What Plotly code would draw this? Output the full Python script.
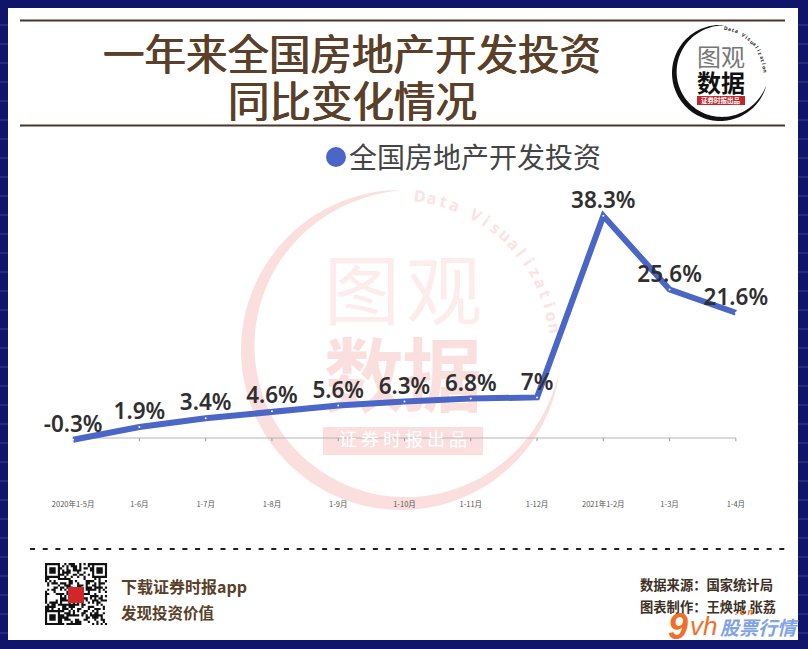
import math
import plotly.graph_objects as go

categories = ["2020年1-5月", "1-6月", "1-7月", "1-8月", "1-9月", "1-10月", "1-11月", "1-12月", "2021年1-2月", "1-3月", "1-4月"]
values = [-0.3, 1.9, 3.4, 4.6, 5.6, 6.3, 6.8, 7, 38.3, 25.6, 21.6]
labels = ["-0.3%", "1.9%", "3.4%", "4.6%", "5.6%", "6.3%", "6.8%", "7%", "38.3%", "25.6%", "21.6%"]
series_name = "全国房地产开发投资"
title_lines = ["一年来全国房地产开发投资", "同比变化情况"]

W, H = 808, 649
L, R, T, B = 40, 769, 148, 496
CJK = "Noto Sans CJK SC"
NAVY = "#10146a"
BROWN = "#5a4029"
PINK = "#fbdfdf"

def fx(p): return (p - L) / (R - L)
def fy(p): return 1 - (p - T) / (B - T)
def dx(p): return -0.5 + 11 * (p - L) / (R - L)
def dy(p): return -10 + 60 * (B - p) / (B - T)

shapes, ann = [], []

def rect(x0, y0, x1, y1, color, layer="below"):
    shapes.append(dict(type="rect", xref="paper", yref="paper", x0=fx(x0), x1=fx(x1), y0=fy(y1), y1=fy(y0),
                       fillcolor=color, line=dict(width=0), layer=layer))

def hline(x0, x1, y, color, width, dash="solid"):
    shapes.append(dict(type="line", xref="paper", yref="paper", x0=fx(x0), x1=fx(x1), y0=fy(y), y1=fy(y),
                       line=dict(color=color, width=width, dash=dash), layer="below"))

def text(x, y, s, size, color, anchor="left", bold=False, family=CJK, angle=0, italic=False, shadow=None):
    f = dict(size=size, color=color, family=family, style="italic" if italic else "normal")
    if shadow:
        f["shadow"] = shadow
    ann.append(dict(xref="paper", yref="paper", x=fx(x), y=fy(y), text=f"<b>{s}</b>" if bold else s, showarrow=False,
                    xanchor=anchor, yanchor="middle", textangle=angle, font=f))

def crescent(cx, cy, r, a0, a1, tmax, color):
    n = 90
    outer, inner = [], []
    for i in range(n + 1):
        t = i / n
        a = math.radians(a0 + (a1 - a0) * t)
        th = tmax * math.sin(math.pi * t) ** 0.8
        outer.append((cx + r * math.cos(a), cy - r * math.sin(a)))
        inner.append((cx + (r - th) * math.cos(a), cy - (r - th) * math.sin(a)))
    pts = outer + inner[::-1]
    path = "M" + " L".join(f"{fx(x):.5f},{fy(y):.5f}" for x, y in pts) + " Z"
    shapes.append(dict(type="path", xref="paper", yref="paper", path=path, fillcolor=color, line=dict(width=0), layer="below"))

def arc_text(cx, cy, r, a0, a1, s, size, color):
    for i, ch in enumerate(s):
        a = a0 + (a1 - a0) * i / (len(s) - 1)
        if ch == " ":
            continue
        ra = math.radians(a)
        text(cx + r * math.cos(ra), cy - r * math.sin(ra), ch, size, color, "center", family="Noto Sans", angle=90 - a, bold=True)

# page
rect(8, 8, 798, 640, "#ffffff")
for y in range(25, 640, 19):
    hline(0, 8, y, "#3a3f8c", 1)
    hline(798, 808, y, "#3a3f8c", 1)
hline(20, 785, 20.5, "#4a3526", 2)
hline(20, 785, 125.5, "#4a3526", 2)
hline(30, 785, 549, "#222222", 2, "5px,7.7px")

# watermark
crescent(401, 350, 160, 90, 352, 15, PINK)
rect(323, 427, 483, 455, PINK)
arc_text(401, 350, 155, 83, 8, "Data Visualization", 16, "#fbe3e3")

# logo
crescent(720, 73, 48, 85, 345, 5, "#111111")
arc_text(720, 73, 45, 82, 2, "Data Visualization", 5, "#222222")
text(721, 55, "图观", 24, "#777777", "center")
text(721, 81, "数据", 24, "#111111", "center", bold=True)
rect(697, 96, 745, 105, "#c0282d", "above")
text(721, 100.5, "证券时报出品", 6.5, "#ffffff", "center", bold=True)

# titles
heavy = "0.5px 0 0 #5a4029, -0.5px 0 0 #5a4029"
text(352, 52, title_lines[0], 41.5, BROWN, "center", shadow=heavy)
text(352, 99, title_lines[1], 41.5, BROWN, "center", shadow=heavy)

# legend key and label
shapes.append(dict(type="circle", xref="paper", yref="paper", x0=fx(326), x1=fx(346), y0=fy(167), y1=fy(147),
                   fillcolor="#4a66c6", line=dict(width=0), layer="below"))
text(347, 156, series_name, 28, "#444444")

# footer
qx, qy, n, m = 45, 563, 29, 2.14
seed = 12345
sub = []
def module(i, j):
    sub.append(f"M{fx(qx+i*m):.5f},{fy(qy+j*m):.5f} L{fx(qx+(i+1)*m):.5f},{fy(qy+j*m):.5f} "
               f"L{fx(qx+(i+1)*m):.5f},{fy(qy+(j+1)*m):.5f} L{fx(qx+i*m):.5f},{fy(qy+(j+1)*m):.5f} Z")
def finder(a, b, i, j):
    u, v = i - a, j - b
    return 0 <= u < 7 and 0 <= v < 7
for j in range(n):
    for i in range(n):
        on = None
        for a, b in ((0, 0), (22, 0), (0, 22)):
            if finder(a, b, i, j):
                u, v = i - a, j - b
                on = u in (0, 6) or v in (0, 6) or (2 <= u <= 4 and 2 <= v <= 4)
        if on is None:
            seed = (seed * 1103515245 + 12345) & 0x7fffffff
            on = (seed >> 16) & 1 == 1
        if on:
            module(i, j)
shapes.append(dict(type="path", xref="paper", yref="paper", path=" ".join(sub), fillcolor="#111111", line=dict(width=0), layer="below"))
rect(68, 587, 84, 603, "#d0282a", "above")
text(119, 586, "下载证券时报app", 16, BROWN, bold=True)
text(119, 612, "发现投资价值", 15.5, BROWN, bold=True)
text(638, 584, "数据来源：国家统计局", 13.3, "#3d3024", bold=True)
text(638, 606, "图表制作：王焕城 张荔", 13.3, "#3d3024", bold=True)
text(678, 626, "9", 36, "#f0702a", "center", bold=True, family="Liberation Sans", italic=True)
text(703, 626, "vh", 26, "#f0702a", "center", family="Liberation Sans", italic=True)
text(759, 626, "股票行情", 19, "#7fa3e6", "center", bold=True, italic=True)
text(744, 612, ". c n", 9, "#f0702a", "center", bold=True, family="Liberation Sans", italic=True)

xs = list(range(len(categories)))
# axis line and ticks
shapes.append(dict(type="line", xref="x", yref="y", x0=0, x1=10, y0=0, y1=0, line=dict(color="#b5b5b5", width=1), layer="below"))
for i in xs:
    shapes.append(dict(type="line", xref="x", yref="y", x0=i, x1=i, y0=0, y1=-0.55, line=dict(color="#999999", width=1), layer="below"))

fig = go.Figure()
# watermark glyphs beneath the line
fig.add_trace(go.Scatter(x=[dx(362), dx(444)], y=[dy(300), dy(300)], mode="text", text=["图", "观"], showlegend=False,
                         hoverinfo="skip", cliponaxis=False, textfont=dict(size=76, color="#fcecec", family=CJK)))
fig.add_trace(go.Scatter(x=[dx(364), dx(442)], y=[dy(385), dy(385)], mode="text", text=["<b>数</b>", "<b>据</b>"], showlegend=False,
                         hoverinfo="skip", cliponaxis=False, textfont=dict(size=80, color=PINK, family=CJK)))
fig.add_trace(go.Scatter(x=[dx(403)], y=[dy(441)], mode="text", text=["证 券 时 报 出 品"], showlegend=False, hoverinfo="skip",
                         textfont=dict(size=18, color="#ffffff", family=CJK)))
# series
fig.add_trace(go.Scatter(x=xs, y=values, mode="lines+markers+text", text=labels, textposition="top center", showlegend=False,
                         line=dict(color="#4a66c6", width=6), marker=dict(size=2, color="#ffffff"), cliponaxis=False,
                         textfont=dict(size=22.5, color="#2f2f2f", family="Noto Sans", weight=600)))

fig.update_layout(
    width=W, height=H, margin=dict(l=L, r=W - R, t=T, b=H - B, autoexpand=False),
    paper_bgcolor=NAVY, plot_bgcolor="rgba(0,0,0,0)", shapes=shapes, annotations=ann, showlegend=False,
    xaxis=dict(range=[-0.5, 10.5], tickmode="array", tickvals=xs, ticktext=categories, showgrid=False, zeroline=False,
               showline=False, ticks="", tickangle=0, ticklabelstandoff=2, tickfont=dict(size=7.5, color="#555555", family=CJK)),
    yaxis=dict(range=[-10, 50], visible=False, showgrid=False, zeroline=False),
)
fig.write_html("out.html", config=dict(displayModeBar=False),
               post_script="document.body.style.margin='0';document.documentElement.style.overflow='hidden';document.body.style.background='#10146a';")
